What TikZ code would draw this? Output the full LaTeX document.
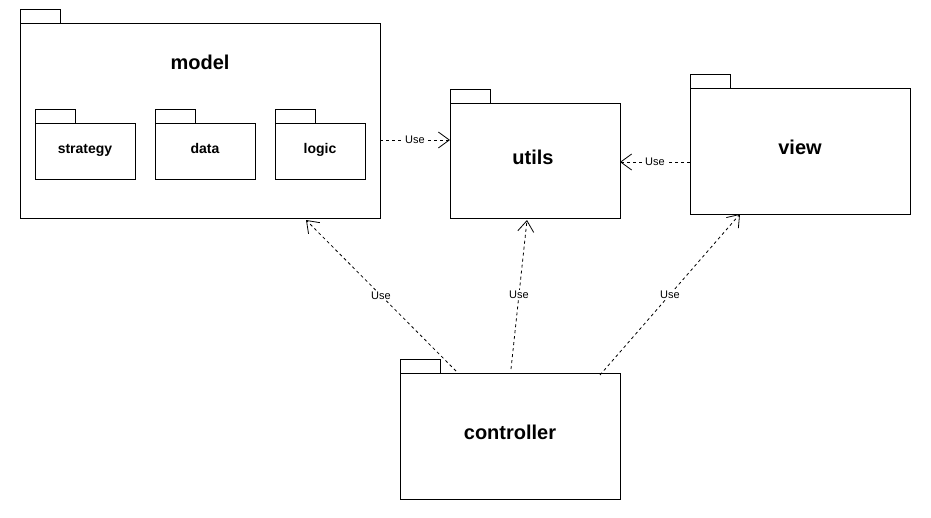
\documentclass[tikz,border=0pt]{standalone}
\usepackage{fontspec}
\setmainfont{Liberation Sans}
\usetikzlibrary{arrows.meta}
\begin{document}
\begin{tikzpicture}[x=1pt,y=-1pt,
  pkg/.style={draw,line width=1pt,anchor=north west,inner sep=0pt,outer sep=0pt,fill=white},
  tab/.style={draw,line width=1pt,anchor=north west,inner sep=0pt,outer sep=0pt,minimum width=40pt,minimum height=14pt},
  bigtitle/.style={font=\fontsize{20}{24}\selectfont\bfseries},
  smalltitle/.style={font=\fontsize{14}{17}\selectfont\bfseries,anchor=base,inner sep=0pt},
  use/.style={draw,line width=0.8pt,dash pattern=on 3pt off 3pt,-{Straight Barb[length=11pt,width=16pt,line width=0.8pt]}},
  uselabel/.style={fill=white,inner sep=1pt,font=\fontsize{11}{13}\selectfont}
]
\useasboundingbox (0,0) rectangle (931,517);
% model
\node[tab] (modeltab) at (20,9) {};
\node[pkg,minimum width=360pt,minimum height=195pt] (model) at (20,23) {};
\node[bigtitle] (modeltitle) at (200,62) {model};
\node[tab] (strategytab) at (35,109) {};
\node[pkg,minimum width=100pt,minimum height=56pt] (strategy) at (35,123) {};
\node[smalltitle] (strategytitle) at (85,153) {strategy};
\node[tab] (datatab) at (155,109) {};
\node[pkg,minimum width=100pt,minimum height=56pt] (data) at (155,123) {};
\node[smalltitle] (datatitle) at (205,153) {data};
\node[tab] (logictab) at (275,109) {};
\node[pkg,minimum width=90pt,minimum height=56pt] (logic) at (275,123) {};
\node[smalltitle] (logictitle) at (320,153) {logic};
% utils
\node[tab] (utilstab) at (450,89) {};
\node[pkg,minimum width=170pt,minimum height=115pt] (utils) at (450,103) {};
\node[bigtitle] (utilstitle) at (533,157) {utils};
% view
\node[tab] (viewtab) at (690,74) {};
\node[pkg,minimum width=220pt,minimum height=126pt] (view) at (690,88) {};
\node[bigtitle] (viewtitle) at (800,147) {view};
% controller
\node[tab] (controllertab) at (400,359) {};
\node[pkg,minimum width=220pt,minimum height=126pt] (controller) at (400,373) {};
\node[bigtitle] (controllertitle) at (510,432) {controller};
% connectors
\draw[use] ([yshift=-19.5pt]model.east) -- node[uselabel] {Use} ([yshift=20.5pt]utils.west);
\draw[use] ([yshift=-11pt]view.west) -- node[uselabel] {Use} ([yshift=-1.5pt]utils.east);
\draw[use] ([xshift=-54pt,yshift=2pt]controller.north) -- node[uselabel] {Use} ([xshift=286pt,yshift=-2pt]model.south west);
\draw[use] ([xshift=1pt,yshift=4pt]controller.north) -- node[uselabel] {Use} ([xshift=-8pt,yshift=-2pt]utils.south);
\draw[use] ([xshift=90pt,yshift=-2pt]controller.north) -- node[uselabel] {Use} ([xshift=50pt]view.south west);
\end{tikzpicture}
\end{document}
